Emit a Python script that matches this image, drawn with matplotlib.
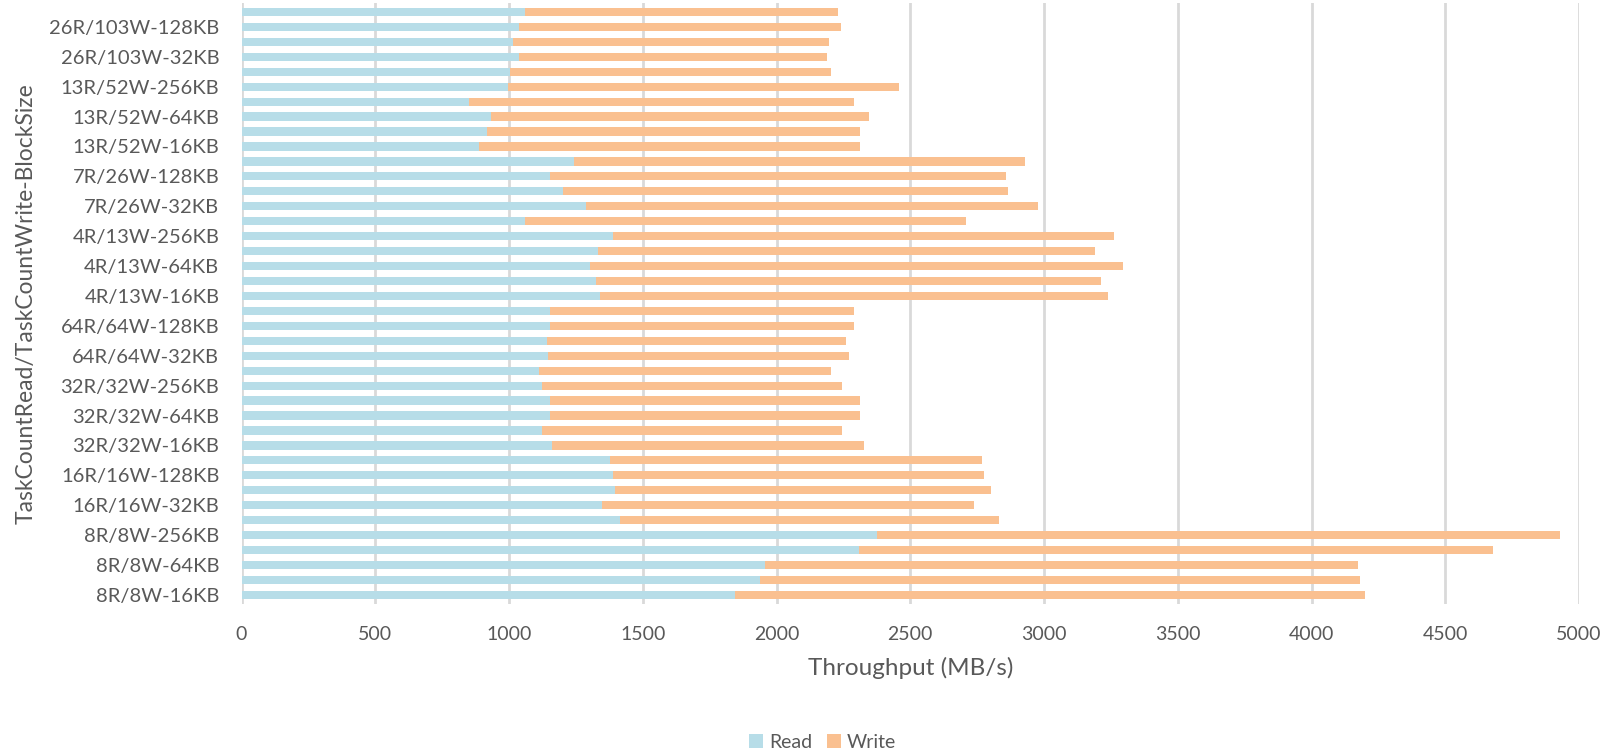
import numpy as np
import matplotlib
matplotlib.use('Agg')
import matplotlib.pyplot as plt

# categories, bottom to top
groups = ["8R/8W", "16R/16W", "32R/32W", "64R/64W", "4R/13W", "7R/26W", "13R/52W", "26R/103W"]
blocks = ["16KB", "32KB", "64KB", "128KB", "256KB"]
labels = [g + "-" + b for g in groups for b in blocks]

read = [1846, 1938, 1958, 2309, 2376,
        1416, 1346, 1396, 1387, 1376,
        1160, 1122, 1155, 1155, 1122,
        1113, 1147, 1142, 1155, 1155,
        1339, 1326, 1301, 1334, 1387,
        1060, 1286, 1200, 1155, 1242,
        889, 918, 931, 849, 995,
        1003, 1037, 1013, 1037, 1060]
write = [2353, 2242, 2214, 2370, 2553,
         1415, 1394, 1406, 1387, 1391,
         1168, 1124, 1157, 1157, 1124,
         1089, 1124, 1118, 1134, 1134,
         1900, 1886, 1996, 1857, 1876,
         1647, 1693, 1664, 1704, 1685,
         1423, 1394, 1415, 1440, 1461,
         1202, 1150, 1184, 1203, 1170]

plt.rcParams['font.family'] = ['Lato', 'DejaVu Sans']
txt = '#595959'

fig = plt.figure(figsize=(16.07, 7.52), dpi=100)
ax = fig.add_axes([0.1503, 0.197, 0.8323, 0.799])

y = np.arange(len(labels))
h = 0.55
ax.barh(y, read, height=h, color='#B7DDE8', label='Read', zorder=3)
ax.barh(y, write, left=read, height=h, color='#FAC090', label='Write', zorder=3)

ax.set_xlim(0, 5000)
ax.set_ylim(-0.6, len(labels) - 0.4)
ax.set_xticks(np.arange(0, 5001, 500))
ax.set_yticks(y[::2])
ax.set_yticklabels(labels[::2])
ax.tick_params(axis='both', length=0, colors=txt)
ax.tick_params(axis='y', labelsize=14.5, pad=16)
ax.tick_params(axis='x', labelsize=14, pad=16)
ax.grid(axis='x', color='#D9D9D9', linewidth=2, zorder=0)
for s in ax.spines.values():
    s.set_visible(False)

ax.set_xlabel("Throughput (MB/s)", fontsize=17.5, color=txt, labelpad=10)
ax.set_ylabel("TaskCountRead/TaskCountWrite-BlockSize", fontsize=16.5, color=txt, labelpad=9)

fig.legend(loc='lower center', bbox_to_anchor=(0.512, -0.022), ncol=2, frameon=False,
           fontsize=14, labelcolor=txt, handlelength=0.7, handleheight=0.7,
           handletextpad=0.3, columnspacing=0.8)

plt.savefig("out.png", dpi=100)
